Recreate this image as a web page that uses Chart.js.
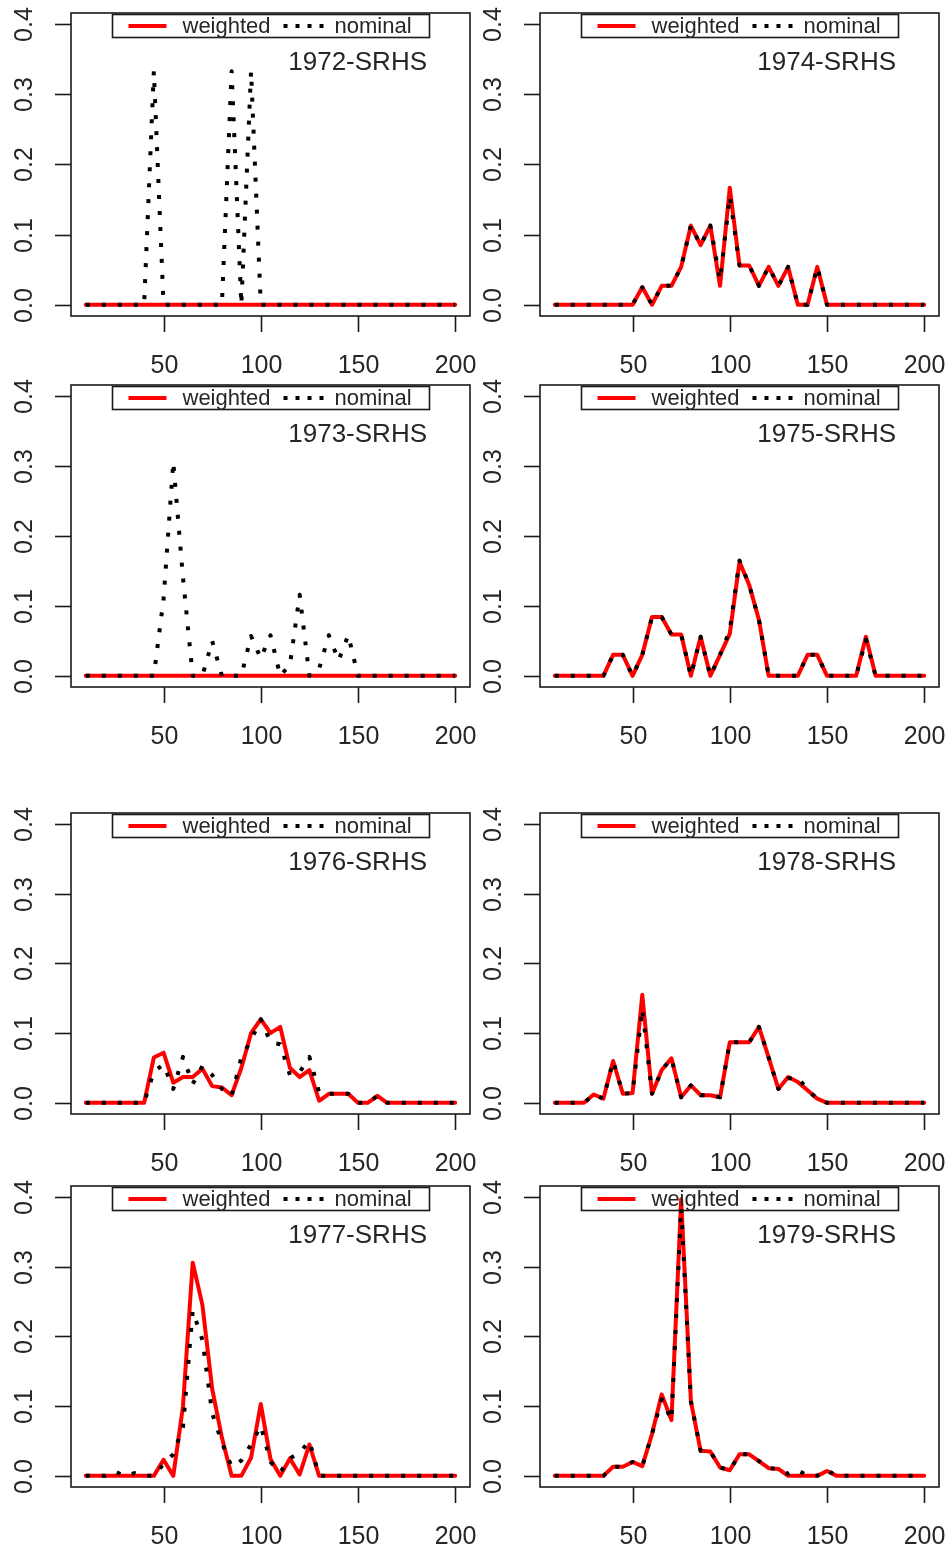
<!DOCTYPE html>
<html><head><meta charset="utf-8">
<script src="https://cdn.jsdelivr.net/npm/chart.js@4.4.1/dist/chart.umd.min.js"></script>
<style>
html,body{margin:0;padding:0;background:#fff;}
body{width:945px;height:1553px;position:relative;overflow:hidden;}
canvas{position:absolute;}
</style></head><body>
<script>
// ---------- data ----------
const xValues = [10,15,20,25,30,35,40,45,50,55, 60,65,70,75,80,85,90,95,100,105, 110,115,120,125,130,135,140,145,150,155, 160,165,170,175,180,185,190,195,200];
const yTicks = [0, 0.1, 0.2, 0.3, 0.4];
const yTickLabels = ['0.0','0.1','0.2','0.3','0.4'];
const xTicks = [50, 100, 150, 200];
const xTickLabels = ['50','100','150','200'];
const seriesNames = ['weighted', 'nominal'];
const panelTitles = ['1972-SRHS','1974-SRHS','1973-SRHS','1975-SRHS','1976-SRHS','1978-SRHS','1977-SRHS','1979-SRHS'];

const weighted1972 = [0,0,0,0,0,0,0,0,0,0, 0,0,0,0,0,0,0,0,0,0, 0,0,0,0,0,0,0,0,0,0, 0,0,0,0,0,0,0,0,0];
const nominal1972  = [0,0,0,0,0,0,0,0.333,0,0, 0,0,0,0,0,0.333,0,0.333,0,0, 0,0,0,0,0,0,0,0,0,0, 0,0,0,0,0,0,0,0,0];

const weighted1973 = [0,0,0,0,0,0,0,0,0,0, 0,0,0,0,0,0,0,0,0,0, 0,0,0,0,0,0,0,0,0,0, 0,0,0,0,0,0,0,0,0];
const nominal1973  = [0,0,0,0,0,0,0,0,0.11,0.306, 0.14,0,0,0.05,0,0,0,0.057,0.025,0.058, 0,0.016,0.116,0,0.01,0.058,0.022,0.058,0,0, 0,0,0,0,0,0,0,0,0];

const weighted1974 = [0,0,0,0,0,0,0,0,0,0.025, 0,0.027,0.027,0.054,0.113,0.085,0.113,0.027,0.167,0.056, 0.056,0.027,0.054,0.027,0.054,0,0,0.054,0,0, 0,0,0,0,0,0,0,0,0];
const nominal1974  = [0,0,0,0,0,0,0,0,0,0.025, 0,0.027,0.027,0.054,0.113,0.085,0.113,0.035,0.155,0.056, 0.056,0.027,0.054,0.027,0.054,0,0,0.054,0,0, 0,0,0,0,0,0,0,0,0];

const weighted1975 = [0,0,0,0,0,0,0.03,0.03,0,0.03, 0.084,0.084,0.059,0.059,0,0.056,0,0.03,0.06,0.163, 0.13,0.08,0,0,0,0,0.03,0.03,0,0, 0,0,0.056,0,0,0,0,0,0];
const nominal1975  = [0,0,0,0,0,0,0.03,0.03,0,0.03, 0.084,0.084,0.059,0.059,0,0.056,0,0.03,0.065,0.165, 0.13,0.08,0,0,0,0,0.03,0.03,0,0, 0,0,0.052,0,0,0,0,0,0];

const weighted1976 = [0,0,0,0,0,0,0,0.065,0.072,0.029, 0.037,0.037,0.049,0.024,0.022,0.011,0.05,0.1,0.12,0.1, 0.109,0.05,0.037,0.047,0.003,0.013,0.013,0.013,0,0, 0.01,0,0,0,0,0,0,0,0];
const nominal1976  = [0,0,0,0,0,0,0,0.045,0.055,0.02, 0.066,0.027,0.053,0.04,0.02,0.01,0.065,0.09,0.12,0.087, 0.084,0.04,0.044,0.066,0.015,0.013,0.013,0.013,0,0, 0.01,0,0,0,0,0,0,0,0];

const weighted1978 = [0,0,0,0,0.012,0.006,0.06,0.013,0.014,0.155, 0.013,0.047,0.064,0.008,0.025,0.011,0.011,0.008,0.087,0.087, 0.087,0.109,0.065,0.02,0.037,0.03,0.018,0.006,0,0, 0,0,0,0,0,0,0,0,0];
const nominal1978  = [0,0,0,0,0.012,0.006,0.06,0.013,0.014,0.135, 0.013,0.047,0.064,0.008,0.025,0.011,0.011,0.008,0.087,0.087, 0.087,0.109,0.065,0.02,0.035,0.037,0.018,0.006,0,0, 0,0,0,0,0,0,0,0,0];

const weighted1977 = [0,0,0,0,0,0,0,0,0.023,0, 0.1,0.306,0.245,0.125,0.055,0,0,0.026,0.103,0.024, 0,0.025,0.002,0.045,0,0,0,0,0,0, 0,0,0,0,0,0,0,0,0];
const nominal1977  = [0,0,0,0.006,0,0.004,0,0,0.017,0.031, 0.07,0.237,0.195,0.09,0.048,0.013,0.022,0.045,0.072,0.02, 0.005,0.025,0.033,0.05,0,0,0,0,0,0, 0,0,0,0,0,0,0,0,0];

const weighted1979 = [0,0,0,0,0,0,0.013,0.013,0.02,0.014, 0.06,0.117,0.08,0.397,0.107,0.036,0.035,0.012,0.008,0.031, 0.031,0.021,0.011,0.01,0,0,0,0,0.007,0, 0,0,0,0,0,0,0,0,0];
const nominal1979  = [0,0,0,0,0,0,0.013,0.013,0.02,0.014, 0.06,0.11,0.08,0.385,0.107,0.036,0.035,0.012,0.008,0.031, 0.031,0.021,0.011,0.01,0.003,0.008,0,0,0.008,0, 0,0,0,0,0,0,0,0,0];

// ---------- layout ----------
const FONT = '"Liberation Sans", Arial, Helvetica, sans-serif';
const TEXT = '#262626';
const columns = [
  {canvasLeft: 0,   canvasWidth: 478, boxLeft: 71,  boxRight: 470},
  {canvasLeft: 470, canvasWidth: 475, boxLeft: 540, boxRight: 939}
];
const rows = [
  {canvasTop: 0,    canvasHeight: 385, boxTop: 13,   boxBottom: 316},
  {canvasTop: 375,  canvasHeight: 390, boxTop: 385,  boxBottom: 687},
  {canvasTop: 790,  canvasHeight: 390, boxTop: 813,  boxBottom: 1114},
  {canvasTop: 1170, canvasHeight: 383, boxTop: 1186, boxBottom: 1487}
];
const panels = [
  {title: panelTitles[0], w: weighted1972, n: nominal1972, col: 0, row: 0},
  {title: panelTitles[1], w: weighted1974, n: nominal1974, col: 1, row: 0},
  {title: panelTitles[2], w: weighted1973, n: nominal1973, col: 0, row: 1},
  {title: panelTitles[3], w: weighted1975, n: nominal1975, col: 1, row: 1},
  {title: panelTitles[4], w: weighted1976, n: nominal1976, col: 0, row: 2},
  {title: panelTitles[5], w: weighted1978, n: nominal1978, col: 1, row: 2},
  {title: panelTitles[6], w: weighted1977, n: nominal1977, col: 0, row: 3},
  {title: panelTitles[7], w: weighted1979, n: nominal1979, col: 1, row: 3}
];

const rFrame = {
  id: 'rframe',
  afterDraw(chart, args, opts) {
    const ctx = chart.ctx;
    const a = chart.chartArea;
    const sx = chart.scales.x, sy = chart.scales.y;
    ctx.save();
    // box
    ctx.strokeStyle = '#1a1a1a';
    ctx.lineWidth = 1.6;
    ctx.setLineDash([]);
    ctx.strokeRect(a.left, a.top, a.right - a.left, a.bottom - a.top);
    // y axis ticks + rotated labels
    ctx.fillStyle = TEXT;
    ctx.font = '25px ' + FONT;
    yTicks.forEach((v, i) => {
      const py = Math.round(sy.getPixelForValue(v)) + 0.5;
      ctx.beginPath();
      ctx.moveTo(a.left - 16, py);
      ctx.lineTo(a.left, py);
      ctx.stroke();
      ctx.save();
      ctx.translate(a.left - 46, py);
      ctx.rotate(-Math.PI / 2);
      ctx.textAlign = 'center';
      ctx.textBaseline = 'middle';
      ctx.fillText(yTickLabels[i], 0, 0);
      ctx.restore();
    });
    // x axis ticks + labels
    xTicks.forEach((v, i) => {
      const px = Math.round(sx.getPixelForValue(v)) + 0.5;
      ctx.beginPath();
      ctx.moveTo(px, a.bottom);
      ctx.lineTo(px, a.bottom + 16);
      ctx.stroke();
      ctx.textAlign = 'center';
      ctx.textBaseline = 'middle';
      ctx.fillText(xTickLabels[i], px, a.bottom + 50);
    });
    // legend (top, horizontal)
    const cx = (a.left + a.right) / 2;
    const lw = 317, lh = 23;
    const lx = Math.round(cx - lw / 2) + 0.5, ly = a.top + 1.5;
    ctx.lineWidth = 1.6;
    ctx.strokeStyle = '#1a1a1a';
    ctx.strokeRect(lx, ly, lw, lh);
    const my = ly + lh / 2;
    ctx.lineWidth = 4;
    ctx.strokeStyle = '#ff0000';
    ctx.lineCap = 'butt';
    ctx.beginPath(); ctx.moveTo(lx + 16, my); ctx.lineTo(lx + 54, my); ctx.stroke();
    ctx.strokeStyle = '#000';
    ctx.setLineDash([4, 8]);
    ctx.beginPath(); ctx.moveTo(lx + 171, my); ctx.lineTo(lx + 211, my); ctx.stroke();
    ctx.setLineDash([]);
    ctx.font = '22px ' + FONT;
    ctx.textAlign = 'left';
    ctx.textBaseline = 'middle';
    ctx.fillText(seriesNames[0], lx + 70, my + 1);
    ctx.fillText(seriesNames[1], lx + 222, my + 1);
    // panel title
    ctx.font = '26px ' + FONT;
    ctx.textAlign = 'right';
    ctx.fillText(opts.title, a.right - 43, a.top + 50);
    ctx.restore();
  }
};

panels.forEach(p => {
  const c = columns[p.col], r = rows[p.row];
  const cv = document.createElement('canvas');
  cv.width = c.canvasWidth; cv.height = r.canvasHeight;
  cv.style.left = c.canvasLeft + 'px'; cv.style.top = r.canvasTop + 'px';
  cv.style.width = c.canvasWidth + 'px'; cv.style.height = r.canvasHeight + 'px';
  document.body.appendChild(cv);
  new Chart(cv, {
    type: 'line',
    data: {
      datasets: [
        {
          label: seriesNames[1],
          data: xValues.map((x, i) => ({x: x, y: p.n[i]})),
          borderColor: '#000000', borderWidth: 4, borderDash: [4, 12],
          borderCapStyle: 'butt', borderJoinStyle: 'round',
          pointRadius: 0, tension: 0, fill: false, order: 1
        },
        {
          label: seriesNames[0],
          data: xValues.map((x, i) => ({x: x, y: p.w[i]})),
          borderColor: '#ff0000', borderWidth: 4,
          borderCapStyle: 'round', borderJoinStyle: 'round',
          pointRadius: 0, tension: 0, fill: false, order: 2
        }
      ]
    },
    options: {
      responsive: false, animation: false, devicePixelRatio: 1, events: [],
      layout: {padding: {
        left: c.boxLeft - c.canvasLeft,
        right: c.canvasLeft + c.canvasWidth - c.boxRight,
        top: r.boxTop - r.canvasTop,
        bottom: r.canvasTop + r.canvasHeight - r.boxBottom
      }},
      plugins: {legend: {display: false}, tooltip: {enabled: false}, rframe: {title: p.title}},
      scales: {
        x: {type: 'linear', min: 2.4, max: 207.6, display: false},
        y: {type: 'linear', min: -0.016, max: 0.416, display: false}
      }
    },
    plugins: [rFrame]
  });
});
</script>
</body></html>
